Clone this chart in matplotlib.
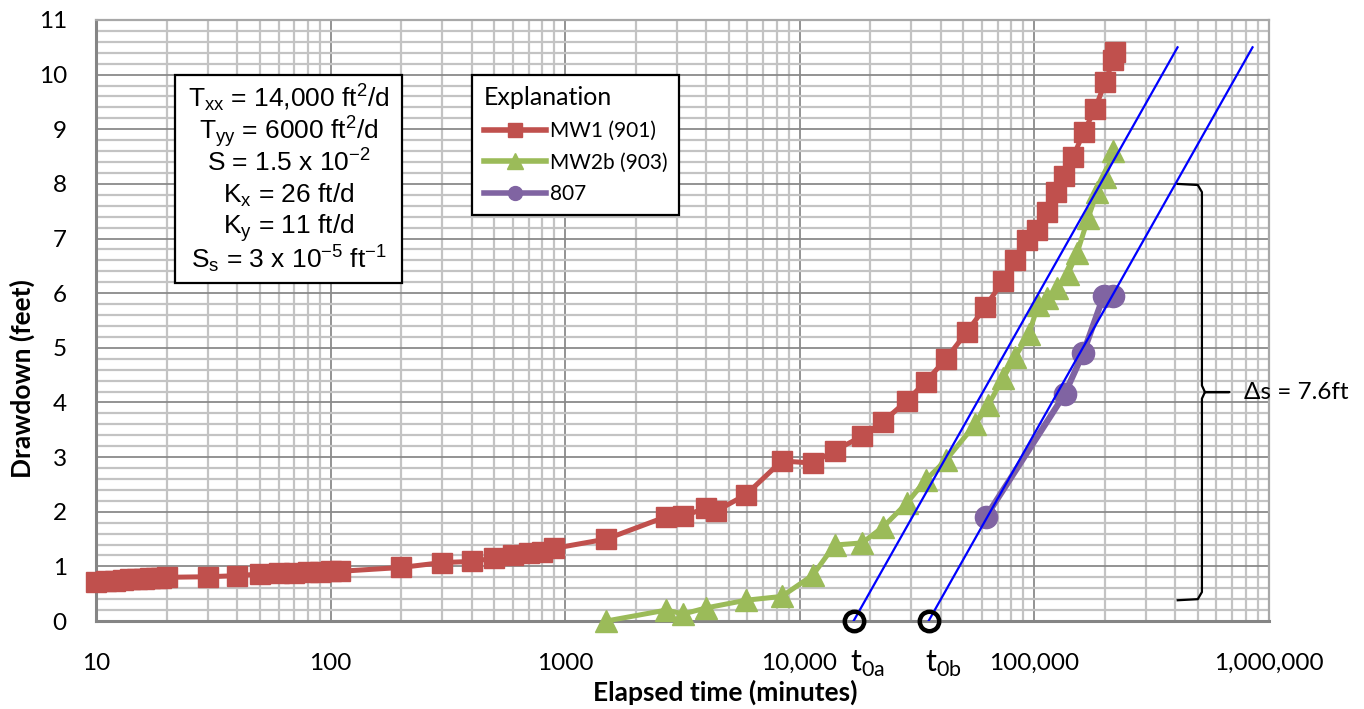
import matplotlib
matplotlib.use("Agg")
import matplotlib.pyplot as plt
from matplotlib.lines import Line2D
from matplotlib.patches import Rectangle
from matplotlib.ticker import FixedLocator, FixedFormatter, LogLocator, MultipleLocator, NullFormatter
import numpy as np

plt.rcParams.update({
    "font.family": ["Lato", "DejaVu Sans"],
    "mathtext.fontset": "custom",
    "mathtext.rm": "Liberation Sans",
    "mathtext.it": "Liberation Sans:italic",
    "mathtext.bf": "Liberation Sans:bold",
})

# ── data ────────────────────────────────────────────────────────────────────
mw1_t = [10, 11, 12, 13, 14, 15, 16, 17, 18, 19, 20, 30, 40,
         50, 60, 70, 80, 90, 100, 110, 200, 300, 400, 500, 600, 700, 800, 900,
         1500, 2700, 3200, 4000, 4400, 5900, 8400, 11400, 14100, 18500, 22700,
         28700, 34500, 42000, 51700, 61800, 73800, 83000, 93300, 103000,
         114000, 124000, 134000, 147000, 163000, 182000, 201000, 217000, 221000]
mw1_s = [0.72, 0.73, 0.74, 0.75, 0.76, 0.77, 0.77, 0.78, 0.79, 0.79, 0.80, 0.81, 0.83,
         0.86, 0.87, 0.88, 0.89, 0.90, 0.91, 0.91, 0.98, 1.07, 1.09, 1.15, 1.20, 1.24, 1.27, 1.33,
         1.50, 1.91, 1.92, 2.07, 2.01, 2.31, 2.93, 2.89, 3.12, 3.38, 3.65,
         4.03, 4.38, 4.79, 5.29, 5.74, 6.23, 6.60, 6.97, 7.15,
         7.48, 7.85, 8.15, 8.50, 8.95, 9.37, 9.86, 10.26, 10.41]

mw2b_t = [1500, 2700, 3200, 4000, 5900, 8400, 11400, 14100, 18500, 22700, 28700,
          34500, 42000, 56100, 63700, 73800, 83000, 95000, 104000, 113700, 125300,
          139700, 152500, 170000, 185600, 201000, 217000]
mw2b_s = [0.00, 0.20, 0.13, 0.24, 0.38, 0.45, 0.84, 1.39, 1.43, 1.72, 2.16,
          2.58, 2.94, 3.60, 3.95, 4.44, 4.83, 5.25, 5.78, 5.92, 6.09,
          6.36, 6.73, 7.37, 7.85, 8.12, 8.61]

w807_t = [62400, 135000, 162000, 198000, 218000]
w807_s = [1.91, 4.15, 4.90, 5.95, 5.95]

t0_vals = [17000, 35500]          # t0a, t0b (minutes)
t0_names = ["0a", "0b"]
slope_ft = 7.6                    # drawdown per log cycle
s_end = 10.5

xtick_vals = [10, 100, 1000, 1e4, 1e5, 1e6]
xtick_labels = ["10", "100", "1000", "10,000", "100,000", "1,000,000"]
ytick_vals = list(range(0, 12))

param_lines = [
    r"T$_\mathregular{xx}$ = 14,000 ft$^\mathregular{2}$/d",
    r"T$_\mathregular{yy}$ = 6000 ft$^\mathregular{2}$/d",
    r"S = 1.5 x 10$^\mathregular{-2}$",
    r"K$_\mathregular{x}$ = 26 ft/d",
    r"K$_\mathregular{y}$ = 11 ft/d",
    r"S$_\mathregular{s}$ = 3 x 10$^\mathregular{-5}$ ft$^\mathregular{-1}$",
]

RED, GREEN, PURPLE = "#C0504D", "#9BBB59", "#8064A2"

fig = plt.figure(figsize=(13.64, 7.09), dpi=100)
ax = fig.add_axes([0.0704, 0.1241, 0.8596, 0.8477])
ax.set_xscale("log")
ax.set_xlim(10, 1e6)
ax.set_ylim(0, 11)

# grid
ax.xaxis.set_major_locator(FixedLocator(xtick_vals))
ax.xaxis.set_major_formatter(FixedFormatter(xtick_labels))
ax.xaxis.set_minor_locator(LogLocator(base=10, subs=np.arange(2, 10)))
ax.xaxis.set_minor_formatter(NullFormatter())
ax.yaxis.set_major_locator(FixedLocator(ytick_vals))
ax.yaxis.set_minor_locator(MultipleLocator(0.2))
ax.grid(which="minor", color="#c3c3c3", linewidth=1.6, zorder=0)
ax.grid(which="major", color="#8a8a8a", linewidth=1.3, zorder=0)
ax.set_axisbelow(True)
ax.tick_params(which="both", length=0)
ax.tick_params(axis="x", pad=23, labelsize=17.5)
ax.tick_params(axis="y", pad=21, labelsize=17.5)
for side in ["left", "bottom"]:
    ax.spines[side].set_color("#858585")
    ax.spines[side].set_linewidth(2.2)
for side in ["top", "right"]:
    ax.spines[side].set_color("#a8a8a8")
    ax.spines[side].set_linewidth(1.6)

# series
ax.plot(mw1_t, mw1_s, color=RED, lw=3.6, marker="s", ms=14.5, mec=RED,
        clip_on=False, zorder=3)
ax.plot(mw2b_t, mw2b_s, color=GREEN, lw=3.6, marker="^", ms=16, mec=GREEN,
        clip_on=False, zorder=3)
ax.plot(w807_t, w807_s, color=PURPLE, lw=4.5, marker="o", ms=16, mec=PURPLE,
        clip_on=False, zorder=3)

# straight-line fits: s = slope * log10(t / t0)
for t0 in t0_vals:
    t_end = t0 * 10 ** (s_end / slope_ft)
    ax.plot([t0, t_end], [0, s_end], color="#0000FF", lw=1.6, zorder=4)
ax.plot(t0_vals, [0, 0], ls="none", marker="o", ms=14, mfc="none", mec="black",
        mew=3.2, clip_on=False, zorder=5)
for t0, name in zip(t0_vals, t0_names):
    ax.text(t0 * 0.97, -0.072, r"t$_\mathregular{%s}$" % name, transform=ax.get_xaxis_transform(),
            ha="left", va="center", fontsize=22, family="Lato")

# brace for delta s
ytop, ybot = 8.0, 0.38
ymid = (ytop + ybot) / 2
xl, xv, xt = 4.1e5, 5.2e5, 6.8e5
bx = [xl, 0.96 * xv, xv, xv, 1.03 * xv, xt, 1.03 * xv, xv, xv, 0.96 * xv, xl]
by = [ytop, ytop - 0.02, ytop - 0.15, ymid + 0.12, ymid, ymid, ymid, ymid - 0.12,
      ybot + 0.15, ybot + 0.02, ybot]
ax.plot(bx, by, color="black", lw=1.6, zorder=4, solid_joinstyle="round", clip_on=False)
ax.text(xt * 1.16, ymid, "Δs = 7.6ft", ha="left", va="center", fontsize=17.5,
        family=["Lato", "DejaVu Sans"], clip_on=False)

# parameter box
ax.add_patch(Rectangle((0.0674, 0.5624), 0.1937, 0.3461, transform=ax.transAxes,
                       facecolor="white", edgecolor="black", lw=1.6, zorder=6))
base_y = [0.8540, 0.8007, 0.7475, 0.6960, 0.6435, 0.5875]
for line, yb in zip(param_lines, base_y):
    ax.text(0.1642, yb, line, transform=ax.transAxes, ha="center", va="baseline",
            fontsize=19, family="Liberation Sans", zorder=7)

# legend
handles = [
    Line2D([], [], color=RED, lw=4, marker="s", ms=10),
    Line2D([], [], color=GREEN, lw=4, marker="^", ms=11),
    Line2D([], [], color=PURPLE, lw=4, marker="o", ms=10),
]
leg = ax.legend(handles, ["MW1 (901)", "MW2b (903)", "807"], title="Explanation",
                loc="upper left", bbox_to_anchor=(0.3208, 0.9085), borderaxespad=0,
                fontsize=15, title_fontsize=18, handlelength=3.0, handletextpad=0.2,
                labelspacing=0.55, borderpad=0.55, fancybox=False, framealpha=1,
                edgecolor="black", numpoints=1)
leg.get_frame().set_linewidth(1.6)
leg._legend_box.align = "left"
leg.set_zorder(6)

ax.set_xlabel("Elapsed time (minutes)", fontsize=19, fontweight="bold")
ax.xaxis.set_label_coords(0.537, -0.118)
ax.xaxis.label.set_va("center")
ax.set_ylabel("Drawdown (feet)", fontsize=19, fontweight="bold")
ax.yaxis.set_label_coords(-0.063, 0.404)
ax.yaxis.label.set_va("center")

fig.savefig("out.png", dpi=100)
